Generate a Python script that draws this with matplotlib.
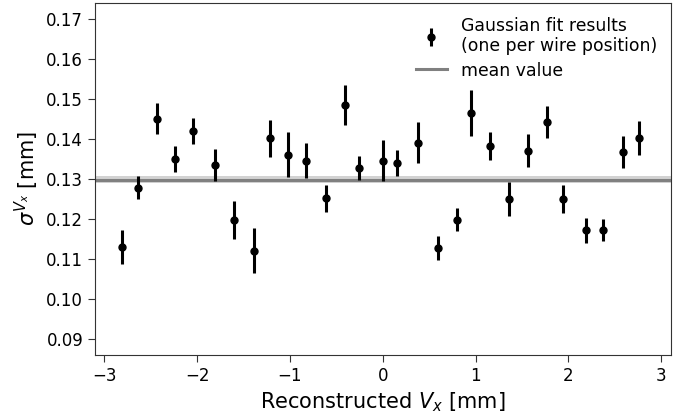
import numpy as np
import matplotlib
matplotlib.use("Agg")
import matplotlib.pyplot as plt

# fitted beam width per wire position
vx = [-2.81, -2.64, -2.43, -2.24, -2.04, -1.81, -1.60, -1.39, -1.21, -1.02,
      -0.83, -0.61, -0.41, -0.26, 0.00, 0.15, 0.38, 0.59, 0.80, 0.95,
      1.15, 1.36, 1.56, 1.77, 1.94, 2.19, 2.37, 2.59, 2.76]
sigma = [0.1130, 0.1278, 0.1451, 0.1350, 0.1420, 0.1334, 0.1197, 0.1120, 0.1402, 0.1361,
         0.1345, 0.1251, 0.1485, 0.1328, 0.1346, 0.1339, 0.1391, 0.1127, 0.1198, 0.1465,
         0.1382, 0.1249, 0.1371, 0.1443, 0.1249, 0.1171, 0.1172, 0.1368, 0.1403]
sigma_err = [0.0043, 0.0028, 0.0039, 0.0033, 0.0032, 0.0040, 0.0048, 0.0056, 0.0046, 0.0057,
             0.0044, 0.0034, 0.0050, 0.0030, 0.0051, 0.0033, 0.0052, 0.0031, 0.0029, 0.0058,
             0.0035, 0.0042, 0.0041, 0.0040, 0.0035, 0.0032, 0.0028, 0.0040, 0.0043]
mean_sigma = 0.1298
mean_err = 0.0008

fig = plt.figure(figsize=(6.86, 4.17), dpi=100)
ax = fig.add_axes([0.1385, 0.149, 0.839, 0.844])

ax.axhspan(mean_sigma - mean_err, mean_sigma + mean_err, color="0.5", alpha=0.35, lw=0)
ax.axhline(mean_sigma, color="0.5", lw=2.2, label="mean value")
ax.errorbar(vx, sigma, yerr=sigma_err, fmt="o", color="k", ms=5, elinewidth=2.2,
            capsize=0, label="Gaussian fit results\n(one per wire position)")

ax.set_xlim(-3.1, 3.1)
ax.set_ylim(0.0859, 0.1741)
ax.set_xticks(range(-3, 4))
ax.set_yticks(np.arange(0.09, 0.171, 0.01))
ax.yaxis.set_major_formatter(matplotlib.ticker.FormatStrFormatter("%.2f"))
ax.tick_params(labelsize=12, length=5, color="0.2")
for sp in ax.spines.values():
    sp.set_color("0.2")

ax.set_xlabel(r"Reconstructed $V_x$ [mm]", fontsize=15)
ax.set_ylabel(r"$\sigma^{V_x}$ [mm]", fontsize=15)

h, l = ax.get_legend_handles_labels()
ax.legend(h[::-1], l[::-1], loc="upper right", frameon=False, fontsize=12.4,
          handlelength=1.8, borderaxespad=0.4, labelspacing=0.35)

fig.savefig("out.png", dpi=100)
